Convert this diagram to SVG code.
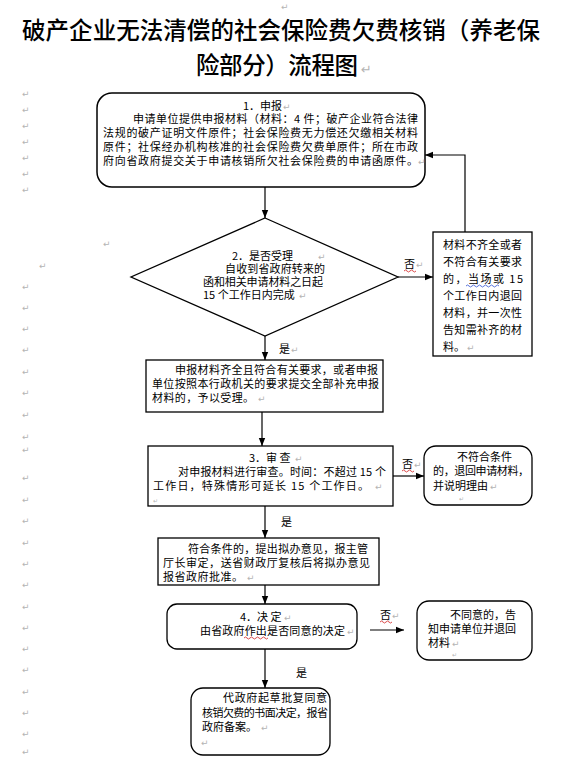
<svg xmlns="http://www.w3.org/2000/svg" width="564" height="764" viewBox="0 0 564 764">
<style>
.t{font-family:"Noto Sans CJK SC","Liberation Sans",sans-serif;font-size:11px;fill:#000}
.title{font-family:"Noto Sans CJK SC","Liberation Serif",serif;font-size:23.5px;fill:#000;font-weight:500}
.pm{font-family:"DejaVu Sans",sans-serif;font-size:9px;fill:#b4b4b4}
.box{fill:#fff;stroke:#000;stroke-width:1.3}
.ln{fill:none;stroke:#000;stroke-width:1.2}
.wr{fill:none;stroke:#d02020;stroke-width:0.8}
.wb{fill:none;stroke:#3050d0;stroke-width:0.8}
</style>
<defs>
<marker id="ah" markerUnits="userSpaceOnUse" markerWidth="8" markerHeight="8" viewBox="0 0 8 8" refX="8" refY="4" orient="auto">
<path d="M0,0.8 L8,4 L0,7.2 Z" fill="#000"/>
</marker>
</defs>
<rect width="564" height="764" fill="#fff"/>

<g id="marks">
<text class="pm" x="281" y="10">↵</text>
<text class="pm" x="22" y="97">↵</text>
<text class="pm" x="22" y="113">↵</text>
<text class="pm" x="22" y="129">↵</text>
<text class="pm" x="22" y="145">↵</text>
<text class="pm" x="22" y="161">↵</text>
<text class="pm" x="22" y="177">↵</text>
<text class="pm" x="22" y="193">↵</text>
<text class="pm" x="103" y="247">↵</text>
<text class="pm" x="39" y="269">↵</text>
<text class="pm" x="22" y="290">↵</text>
<text class="pm" x="22" y="311">↵</text>
<text class="pm" x="22" y="332">↵</text>
<text class="pm" x="22" y="353">↵</text>
<text class="pm" x="22" y="375">↵</text>
<text class="pm" x="22" y="396">↵</text>
<text class="pm" x="22" y="418">↵</text>
<text class="pm" x="22" y="440">↵</text>
<text class="pm" x="22" y="453">↵</text>
<text class="pm" x="22" y="481">↵</text>
<text class="pm" x="22" y="503">↵</text>
<text class="pm" x="22" y="524">↵</text>
<text class="pm" x="22" y="546">↵</text>
<text class="pm" x="22" y="567">↵</text>
<text class="pm" x="22" y="588">↵</text>
<text class="pm" x="22" y="610">↵</text>
<text class="pm" x="22" y="631">↵</text>
<text class="pm" x="22" y="652">↵</text>
<text class="pm" x="22" y="673">↵</text>
<text class="pm" x="22" y="695">↵</text>
<text class="pm" x="22" y="716">↵</text>
<text class="pm" x="22" y="737">↵</text>
<text class="pm" x="22" y="755">↵</text>
</g>

<g id="title">
<text class="title" x="22" y="39" textLength="518" lengthAdjust="spacing">破产企业无法清偿的社会保险费欠费核销（养老保</text>
<text class="title" x="196" y="74" textLength="162" lengthAdjust="spacing">险部分）流程图</text>
<text class="pm" x="361" y="74" style="font-size:13px">↵</text>
</g>

<g id="connectors">
<line class="ln" x1="265" y1="187" x2="265" y2="218" marker-end="url(#ah)"/>
<polyline class="ln" points="465,232 465,155 425,155" marker-end="url(#ah)"/>
<line class="ln" x1="398" y1="277" x2="433" y2="277" marker-end="url(#ah)"/>
<line class="ln" x1="265" y1="336" x2="265" y2="360" marker-end="url(#ah)"/>
<line class="ln" x1="262" y1="412" x2="262" y2="446" marker-end="url(#ah)"/>
<line class="ln" x1="393" y1="476" x2="424" y2="476" marker-end="url(#ah)"/>
<line class="ln" x1="265" y1="506" x2="265" y2="538" marker-end="url(#ah)"/>
<line class="ln" x1="265" y1="585" x2="265" y2="604" marker-end="url(#ah)"/>
<line class="ln" x1="370" y1="630" x2="404" y2="630" marker-end="url(#ah)"/>
<line class="ln" x1="265" y1="649" x2="265" y2="688" marker-end="url(#ah)"/>
<text class="t" x="404" y="268">否</text><text class="pm" x="416" y="268">↵</text>
<path class="wr" d="M404,271 q1.5,-2 3,0 t3,0 t3,0 t3,0"/>
<text class="t" x="279" y="353">是</text><text class="pm" x="291" y="353">↵</text>
<text class="t" x="402" y="468">否</text><text class="pm" x="414" y="468">↵</text>
<path class="wr" d="M402,471 q1.5,-2 3,0 t3,0 t3,0 t3,0"/>
<text class="t" x="281" y="526">是</text>
<text class="t" x="380" y="619">否</text><text class="pm" x="392" y="619">↵</text>
<path class="wr" d="M380,622 q1.5,-2 3,0 t3,0 t3,0 t3,0"/>
<text class="t" x="296" y="677">是</text>
</g>

<g id="n1">
<rect class="box" x="97" y="93" width="328" height="94" rx="15" style="stroke-width:1.5"/>
<text class="t" x="243" y="110">1．申报</text><text class="pm" x="283" y="110">↵</text>
<text class="t" x="133" y="123" textLength="285" lengthAdjust="spacing">申请单位提供申报材料（材料：4 件；破产企业符合法律</text>
<text class="t" x="103" y="137" textLength="315" lengthAdjust="spacing">法规的破产证明文件原件；社会保险费无力偿还欠缴相关材料</text>
<text class="t" x="103" y="151" textLength="315" lengthAdjust="spacing">原件；社保经办机构核准的社会保险费欠费单原件；所在市政</text>
<text class="t" x="103" y="165" textLength="315" lengthAdjust="spacing">府向省政府提交关于申请核销所欠社会保险费的申请函原件。</text>
<text class="pm" x="418" y="165">↵</text>
</g>

<g id="n2">
<polygon class="box" points="265,218 398,277 265,336 131,277"/>
<text class="t" x="232" y="260">2．是否受理</text><text class="pm" x="318" y="260">↵</text>
<text class="t" x="225" y="273" textLength="100" lengthAdjust="spacing">自收到省政府转来的</text>
<text class="t" x="203" y="286" textLength="120" lengthAdjust="spacing">函和相关申请材料之日起</text>
<text class="t" x="203" y="299">15 个工作日内完成</text><text class="pm" x="299" y="299">↵</text>
</g>

<g id="n3">
<rect class="box" x="433" y="232" width="99" height="124"/>
<text class="t" x="443" y="249" textLength="79" lengthAdjust="spacing">材料不齐全或者</text>
<text class="t" x="443" y="266" textLength="79" lengthAdjust="spacing">不符合有关要求</text>
<text class="t" x="443" y="283" textLength="80" lengthAdjust="spacing">的，当场或 15</text>
<path class="wb" d="M466,286 q1.5,-2 3,0 t3,0 t3,0 t3,0 t3,0 t3,0 t3,0 t3,0 t3,0 t3,0 t3,0"/>
<text class="t" x="443" y="300" textLength="79" lengthAdjust="spacing">个工作日内退回</text>
<text class="t" x="443" y="317" textLength="79" lengthAdjust="spacing">材料，并一次性</text>
<text class="t" x="443" y="334" textLength="79" lengthAdjust="spacing">告知需补齐的材</text>
<text class="t" x="443" y="351">料。</text><text class="pm" x="467" y="351">↵</text>
</g>

<g id="n4">
<rect class="box" x="146" y="360" width="237" height="52"/>
<text class="t" x="175" y="374" textLength="203" lengthAdjust="spacing">申报材料齐全且符合有关要求，或者申报</text>
<text class="t" x="152" y="388" textLength="227" lengthAdjust="spacing">单位按照本行政机关的要求提交全部补充申报</text>
<text class="t" x="152" y="402" textLength="102" lengthAdjust="spacing">材料的，予以受理。</text>
<text class="pm" x="258" y="402">↵</text>
</g>

<g id="n5">
<rect class="box" x="148" y="446" width="245" height="60"/>
<text class="t" x="249" y="462">3．审 查</text><text class="pm" x="295" y="462">↵</text>
<text class="t" x="178" y="476" textLength="208" lengthAdjust="spacing">对申报材料进行审查。时间：不超过 15 个</text>
<text class="t" x="153" y="490" textLength="216" lengthAdjust="spacing">工作日，特殊情形可延长 15 个工作日。</text>
<text class="pm" x="375" y="490">↵</text>
<text class="pm" x="153" y="503" style="font-size:6px">↵</text>
</g>

<g id="n6">
<rect class="box" x="424" y="446" width="108" height="59" rx="12"/>
<text class="t" x="457" y="461" textLength="55" lengthAdjust="spacing">不符合条件</text>
<text class="t" x="433" y="475" textLength="96" lengthAdjust="spacing">的，退回申请材料，</text>
<text class="t" x="433" y="490" textLength="55" lengthAdjust="spacing">并说明理由</text>
<text class="pm" x="490" y="490">↵</text>
<text class="pm" x="459" y="501" style="font-size:6px">↵</text>
</g>

<g id="n7">
<rect class="box" x="158" y="538" width="221" height="47"/>
<text class="t" x="188" y="553" textLength="180" lengthAdjust="spacing">符合条件的，提出拟办意见，报主管</text>
<text class="t" x="163" y="567" textLength="207" lengthAdjust="spacing">厅长审定，送省财政厅复核后将拟办意见</text>
<text class="t" x="163" y="581" textLength="80" lengthAdjust="spacing">报省政府批准。</text>
<text class="pm" x="247" y="581">↵</text>
</g>

<g id="n8">
<rect class="box" x="167" y="604" width="190" height="45" rx="10"/>
<text class="t" x="240" y="621">4．决 定</text><text class="pm" x="284" y="621">↵</text>
<text class="t" x="200" y="635" textLength="145" lengthAdjust="spacing">由省政府作出是否同意的决定</text>
<text class="pm" x="347" y="635">↵</text>
<path class="wr" d="M244,638 q1.5,-2 3,0 t3,0 t3,0 t3,0 t3,0 t3,0 t3,0 t3,0"/>
</g>

<g id="n9">
<rect class="box" x="417" y="601" width="115" height="59" rx="12"/>
<text class="t" x="450" y="619" textLength="66" lengthAdjust="spacing">不同意的，告</text>
<text class="t" x="428" y="633" textLength="88" lengthAdjust="spacing">知申请单位并退回</text>
<text class="t" x="428" y="647">材料</text><text class="pm" x="452" y="647">↵</text>
<text class="pm" x="452" y="657" style="font-size:6px">↵</text>
</g>

<g id="n10">
<rect class="box" x="191" y="688" width="139" height="67" rx="12"/>
<text class="t" x="223" y="702" textLength="104" lengthAdjust="spacing">代政府起草批复同意</text>
<text class="t" x="202" y="717" textLength="126" lengthAdjust="spacing">核销欠费的书面决定，报省</text>
<text class="t" x="202" y="731">政府备案。</text><text class="pm" x="261" y="731">↵</text>
<text class="pm" x="201" y="746">↵</text>
</g>
</svg>
